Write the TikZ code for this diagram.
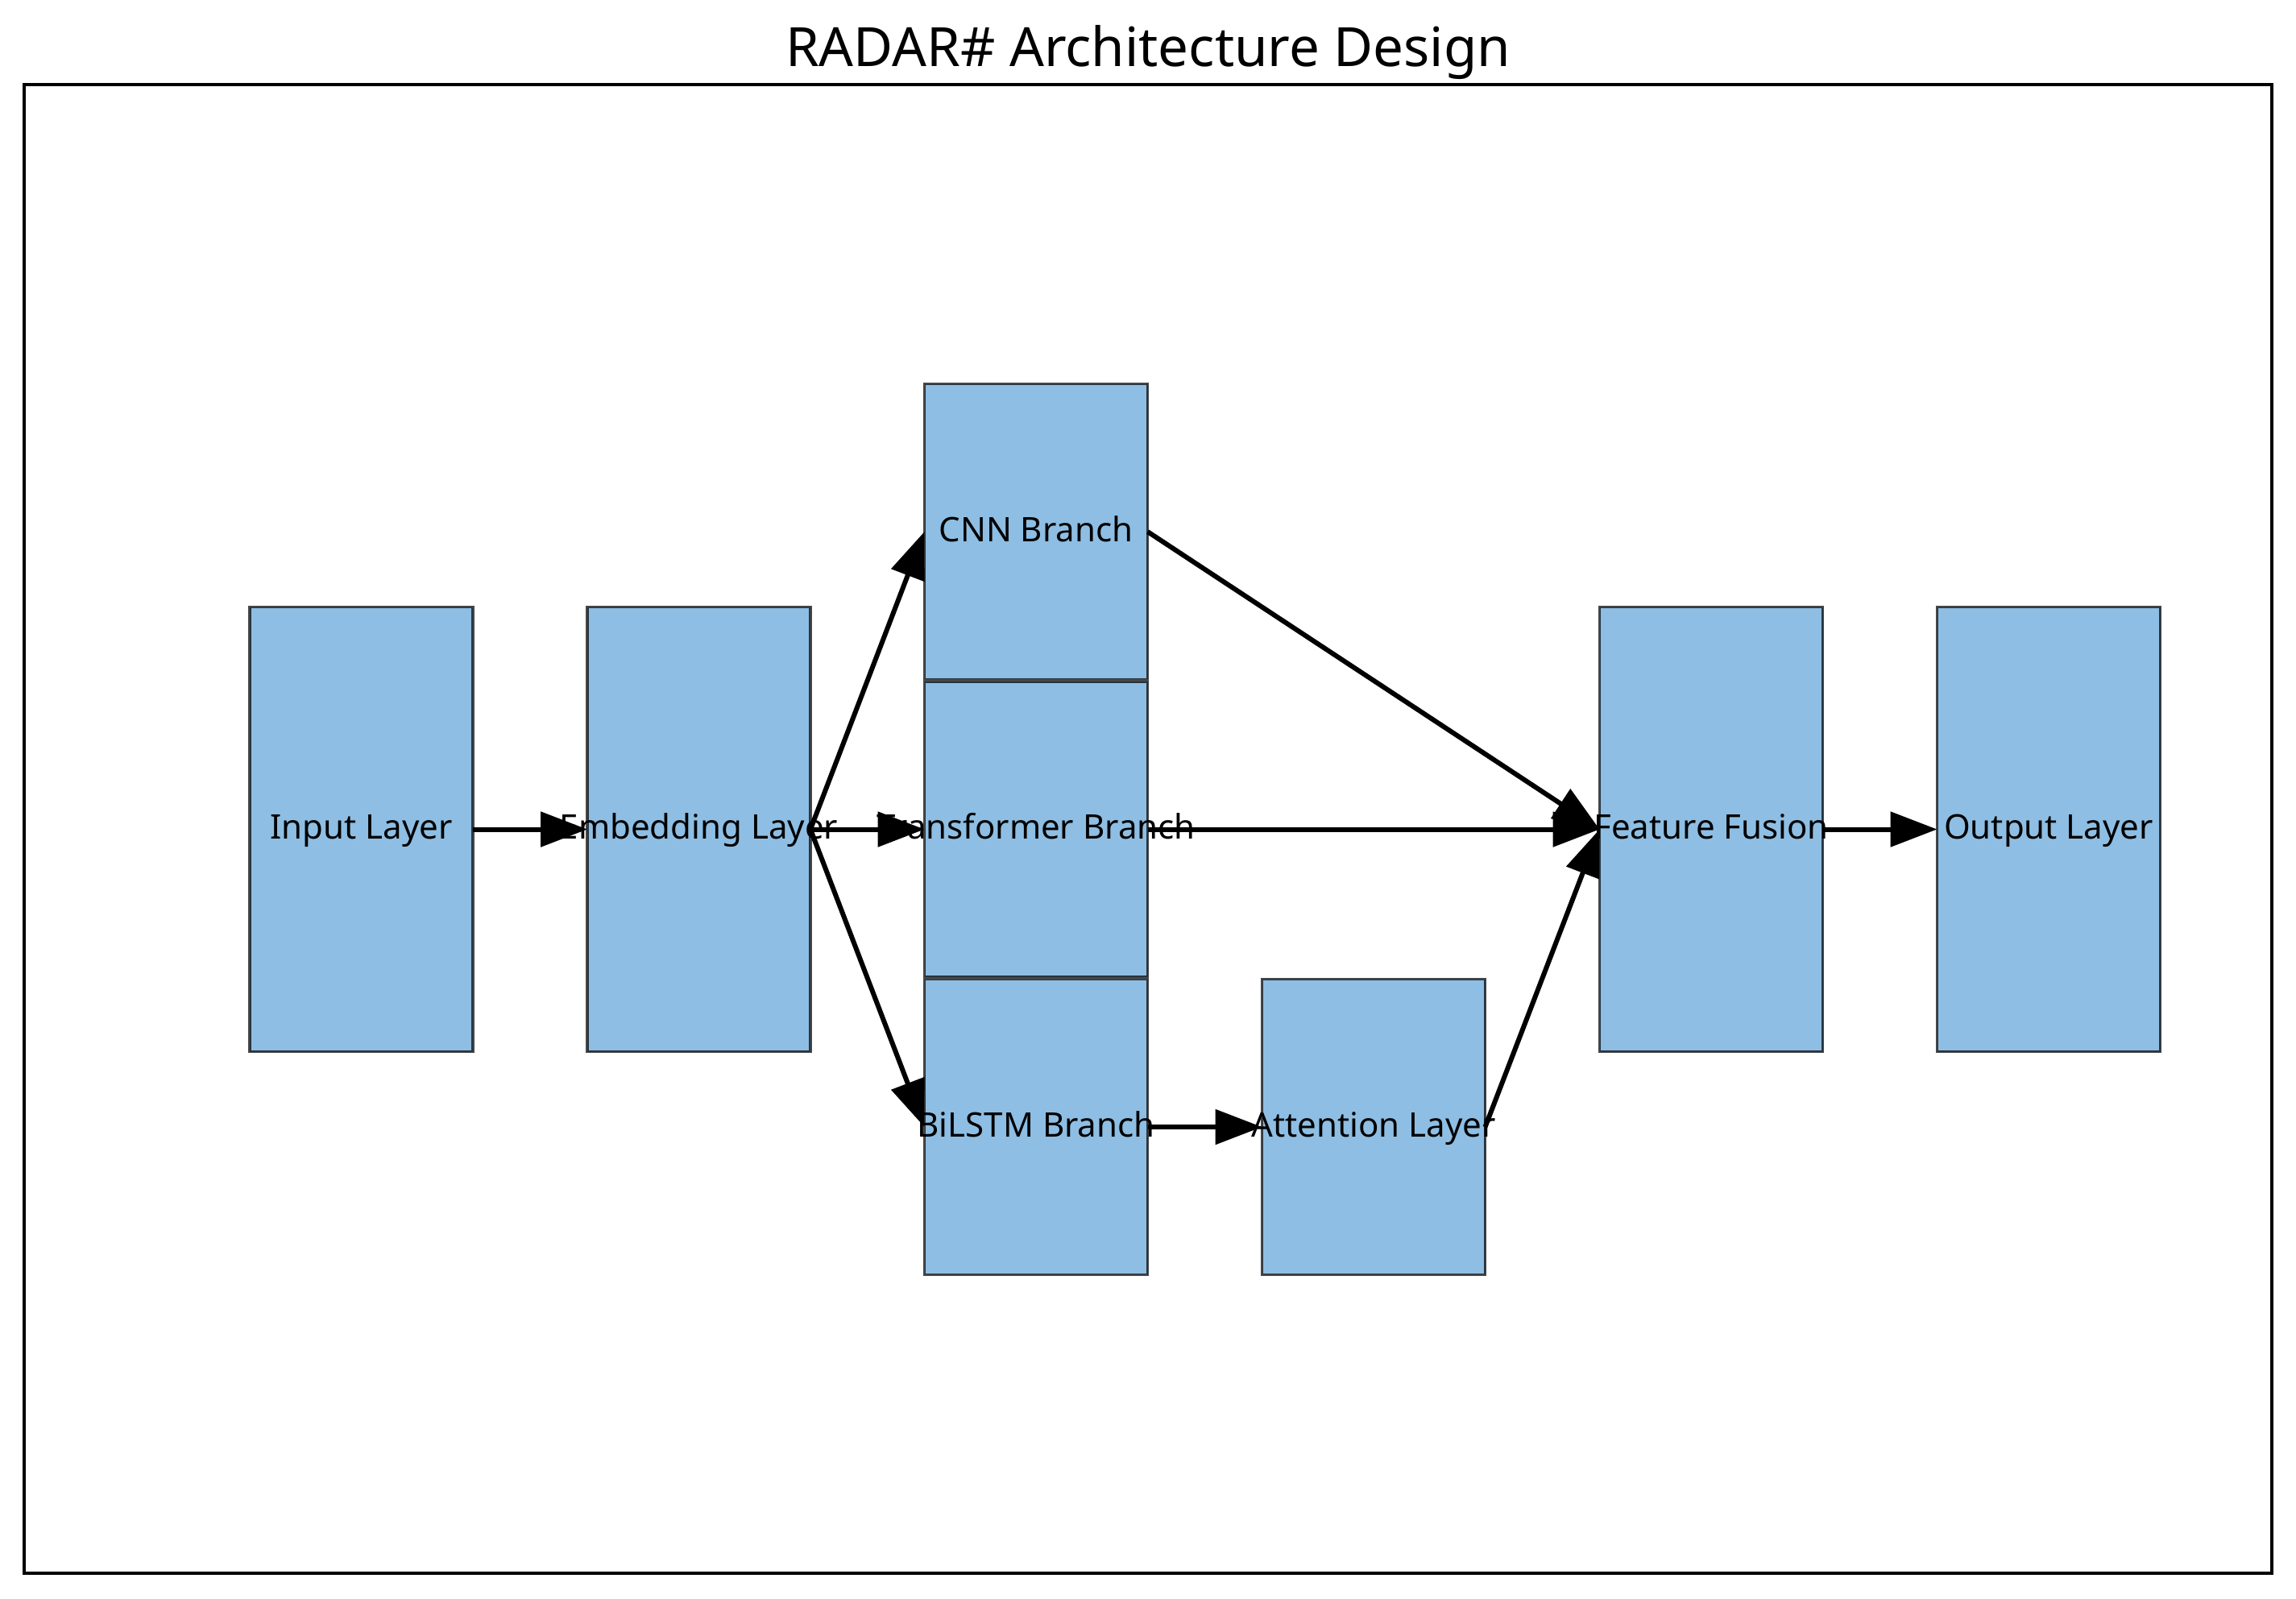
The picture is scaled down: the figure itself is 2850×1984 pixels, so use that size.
\documentclass[tikz,border=0pt]{standalone}
\usepackage{fontspec}
\setmainfont{Noto Sans}
\usetikzlibrary{arrows.meta}
\definecolor{boxfill}{RGB}{142,190,227}
\begin{document}
\begin{tikzpicture}[x=0.25pt,y=-0.25pt,
  blk/.style={draw=black, draw opacity=0.72, fill=boxfill, line width=0.8pt,
    minimum width=69.25pt, minimum height=#1, inner sep=0pt, outer sep=0pt},
  blk/.default=138pt,
  lbl/.style={font=\fontsize{10.5}{12}\selectfont, anchor=base, inner sep=0pt},
  arr/.style={line width=1.5pt, -{Triangle[length=14.5pt,width=10.7pt]}}]
\useasboundingbox (0,0) rectangle (2850,1984);
\fill[white] (0,0) rectangle (2850,1984);
% frame and title
\draw[line width=0.85pt] (30,105) rectangle (2820,1953);
\node[font=\fontsize{16.8}{20}\selectfont, anchor=base, inner sep=0pt] (title) at (1425,82) {RADAR\# Architecture Design};
% boxes
\node[blk] (input) at (448.5,1029.5) {};
\node[blk] (emb) at (867.5,1029.5) {};
\node[blk=91.6pt] (cnn) at (1286,660) {};
\node[blk=91.6pt] (trans) at (1286,1029.5) {};
\node[blk=91.6pt] (bilstm) at (1286,1399) {};
\node[blk=91.6pt] (att) at (1705,1399) {};
\node[blk] (fusion) at (2124,1029.5) {};
\node[blk] (output) at (2543,1029.5) {};
% labels
\node[lbl] (tinput) at ([yshift=-3pt]input.center) {Input Layer};
\node[lbl] (temb) at ([yshift=-3pt]emb.center) {Embedding Layer};
\node[lbl] (tcnn) at ([yshift=-3pt]cnn.center) {CNN Branch};
\node[lbl] (ttrans) at ([yshift=-3pt]trans.center) {Transformer Branch};
\node[lbl] (tbilstm) at ([yshift=-3pt]bilstm.center) {BiLSTM Branch};
\node[lbl] (tatt) at ([yshift=-3pt]att.center) {Attention Layer};
\node[lbl] (tfusion) at ([yshift=-3pt]fusion.center) {Feature Fusion};
\node[lbl] (toutput) at ([yshift=-3pt]output.center) {Output Layer};
% arrows
\draw[arr] (input.east) -- (emb.west);
\draw[arr] (emb.east) -- (cnn.west);
\draw[arr] (emb.east) -- (trans.west);
\draw[arr] (emb.east) -- (bilstm.west);
\draw[arr] (cnn.east) -- (fusion.west);
\draw[arr] (trans.east) -- (fusion.west);
\draw[arr] (bilstm.east) -- (att.west);
\draw[arr] (att.east) -- (fusion.west);
\draw[arr] (fusion.east) -- (output.west);
\end{tikzpicture}
\end{document}
